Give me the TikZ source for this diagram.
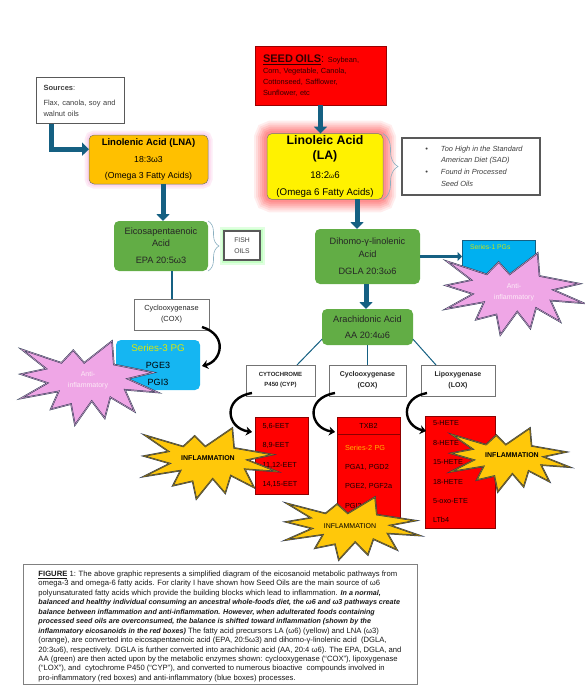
\documentclass[tikz,border=0pt]{standalone}
\usepackage{fontspec}
\setmainfont{Liberation Sans}
\usetikzlibrary{arrows.meta, calc, decorations.pathreplacing}
\definecolor{pathteal}{HTML}{156082}
\definecolor{acidgreen}{HTML}{62AD45}
\definecolor{acidorange}{HTML}{FFC000}
\definecolor{skyblue}{HTML}{15B6F2}
\definecolor{seriesblue}{HTML}{00B0F0}
\definecolor{starpink}{HTML}{EFA6E6}
\definecolor{stargold}{HTML}{FFC80A}
\definecolor{starline}{HTML}{2E3A55}
\newcommand{\fsz}[2]{\fontsize{#1}{#2}\selectfont}

\begin{document}
\begin{tikzpicture}[
    x=1pt, y=-1pt,
    every node/.style={outer sep=0pt, inner sep=2pt},
    acid/.style={rectangle, rounded corners=5pt, draw=black!55, line width=.5pt, align=center},
    greenacid/.style={rectangle, rounded corners=5pt, fill=acidgreen, align=center, text=black!85},
    glow/.style={preaction={draw=#1, draw opacity=.07, line width=26pt},
                 preaction={draw=#1, draw opacity=.08, line width=22pt},
                 preaction={draw=#1, draw opacity=.09, line width=18pt},
                 preaction={draw=#1, draw opacity=.1, line width=14pt},
                 preaction={draw=#1, draw opacity=.1, line width=10pt},
                 preaction={draw=#1, draw opacity=.1, line width=6pt}},
    softglow/.style={preaction={draw=#1, draw opacity=.3, line width=9pt},
                     preaction={draw=#1, draw opacity=.4, line width=5pt}},
    bevel/.style={rectangle, draw=black!65, line width=1.3pt, fill=white, align=left, text=black!75},
    enzyme/.style={rectangle, draw=black!55, line width=.6pt, fill=white, align=center, text=black!85},
    redlist/.style={rectangle, draw=red!55!black, line width=.6pt, fill=red, align=left, text=black!90!red},
    bigarrow/.style={draw=pathteal, line width=5pt, -{Triangle[length=7pt,width=13pt]}},
    sidearrow/.style={draw=pathteal, line width=3.5pt, -{Triangle[length=4.5pt,width=9pt]}},
    branch/.style={draw=pathteal, line width=1pt},
    curvearrow/.style={draw=black, line width=2.4pt, -{Stealth[length=6pt,width=9pt]}},
    bracket/.style={draw=pathteal!50, line width=.6pt, decorate},
    antistar/.style={fill=starpink, draw=starline, double=starpink!70!gray, double distance=.5pt, line width=.5pt, miter limit=20},
    goldstar/.style={fill=stargold, draw=starline, double=stargold!60!black, double distance=.5pt, line width=.5pt, miter limit=20},
    burst/.pic={
        \path[pic actions] (66.7,0) -- (68,28) -- (97,37.5) -- (78,45) -- (100,61.3) -- (76,58)
            -- (83,84) -- (65.5,67) -- (61.4,92) -- (52,71.5) -- (39.8,100) -- (37,75)
            -- (22.2,81.4) -- (28,60) -- (.5,68.4) -- (20,50) -- (.5,39.5) -- (19,33)
            -- (1.2,10) -- (30,26) -- (38.6,11) -- (46.5,26) -- cycle;
    }
]
\useasboundingbox (0,0) rectangle (584,699);

% Left column (omega 3)
\node[bevel, minimum width=88pt, minimum height=46pt, text width=74pt, inner xsep=7pt, font=\fsz{7.5}{11}] (src) at (80.5,100.5)
    {\textbf{Sources}:\\[4pt] Flax, canola, soy and\\ walnut oils};
\node[acid, softglow=magenta!25, fill=acidorange, minimum width=119pt, minimum height=49pt] (lna) at (148.5,159.5)
    {{\fsz{9.5}{11}\textbf{Linolenic Acid (LNA)}}\\[4.5pt] {\fsz{8.7}{11}18:3ω3}\\[4.5pt] {\fsz{8.7}{11}(Omega 3 Fatty Acids)}};
\node[greenacid, minimum width=94pt, minimum height=50pt, font=\fsz{9.2}{12}] (epa) at (161,246)
    {Eicosapentaenoic\\ Acid\\[5pt] EPA 20:5ω3};
\node[bevel, softglow=green!40, minimum width=36pt, minimum height=29pt, font=\fsz{6.8}{11}] (fish) at (242,245.5) {FISH\\ OILS};
\node[enzyme, minimum width=75pt, minimum height=31pt, font=\fsz{7.4}{11}] (coxa) at (171.5,314.5) {Cyclooxygenase\\ (COX)};
\node[rectangle, rounded corners=5pt, fill=skyblue, minimum width=84pt, minimum height=50pt, align=center, font=\fsz{9}{17}] (ser3) at (158,365)
    {{\fsz{9.8}{17}\textcolor{yellow!85!green}{Series-3 PG}}\\ PGE3\\ PGI3};

% Right column (omega 6)
\node[rectangle, draw=red!60!black, line width=.6pt, fill=red, minimum width=131pt, minimum height=59pt, align=left, text width=115pt, inner xsep=8pt, text=red!20!black, font=\fsz{7.4}{11}] (seed) at (320.5,75.5)
    {{\fsz{11}{11}\textbf{\underline{SEED OILS}}:} Soybean,\\ Corn, Vegetable, Canola,\\ Cottonseed, Safflower,\\ Sunflower, etc};
\node[acid, glow=red, fill=yellow, minimum width=116pt, minimum height=65pt] (la) at (325,166.5)
    {{\fsz{12.3}{15.5}\textbf{Linoleic Acid}}\\[3pt] {\fsz{12.3}{15.5}\textbf{(LA)}}\\[7pt] {\fsz{9.7}{11}18:2{\fsz{6.5}{7}ω}6}\\[5pt] {\fsz{9.7}{11}(Omega 6 Fatty Acids)}};
\node[bevel, minimum width=138pt, minimum height=57pt, font=\fsz{7.4}{11.3}\itshape] (note) at (471,166.5)
    {\begin{tabular}{@{\hspace{6pt}}l@{\hspace{13pt}}l@{}}
     \textbullet & Too High in the Standard\\
                 & American Diet (SAD)\\[1pt]
     \textbullet & Found in Processed\\
                 & Seed Oils
     \end{tabular}};
\node[greenacid, minimum width=105pt, minimum height=55pt, font=\fsz{9.2}{12.5}] (dgla) at (367.5,256.5)
    {Dihomo-γ-linolenic\\ Acid\\[5pt] DGLA 20:3ω6};
\node[rectangle, draw=pathteal, line width=.4pt, fill=seriesblue, minimum width=73pt, minimum height=33pt] (ser1) at (498.5,256.5) {};
\node[anchor=north west, text=yellow!80!green, font=\fsz{6.8}{8}] (ser1t) at (468,243) {Series-1 PGs};
\node[greenacid, minimum width=91pt, minimum height=36pt, font=\fsz{9.2}{16}] (aa) at (367.5,327)
    {Arachidonic Acid\\ AA 20:4ω6};

% Enzymes
\node[enzyme, minimum width=69pt, minimum height=31pt, font=\fsz{6}{10}\bfseries] (cyp) at (280.5,380.5) {CYTOCHROME\\ P450 (CYP)};
\node[enzyme, minimum width=77pt, minimum height=31pt, font=\fsz{7}{11}\bfseries] (coxb) at (367.5,380.5) {Cyclooxygenase\\ (COX)};
\node[enzyme, minimum width=74pt, minimum height=31pt, font=\fsz{7}{11}\bfseries] (lox) at (458,380.5) {Lipoxygenase\\ (LOX)};

% Red boxes
\node[redlist, minimum height=77pt, text width=38pt, inner xsep=7.5pt, font=\fsz{7.3}{19.4}] (eet) at (281.5,455.5)
    {5,6-EET\\ 8,9-EET\\ 11,12-EET\\ 14,15-EET};
\node[redlist, minimum width=63pt, minimum height=17pt, align=center, font=\fsz{7.3}{9}] (txb) at (368.5,425.5) {TXB2};
\node[redlist, minimum height=85pt, text width=47pt, inner xsep=8pt, font=\fsz{7.3}{19.4}] (pgs) at (368.5,476.5)
    {\textcolor{orange!60!yellow}{Series-2 PG}\\ PGA1, PGD2\\ \mbox{PGE2, PGF2a}\\ PGI2};
\node[redlist, minimum height=112pt, text width=54pt, inner xsep=8pt, font=\fsz{7.3}{19.4}] (hete) at (460,472)
    {5-HETE\\ 8-HETE\\ 15-HETE\\ 18-HETE\\ 5-oxo-ETE\\ LTb4};

% Arrows
\draw[bigarrow] ($(src.south west)!.175!(src.south east)$) |- ($(lna.north west)!.29!(lna.south west)$);
\draw[bigarrow] ($(lna.south)+(14.5,0)$) -- ($(epa.north)+(2,0)$);
\draw[bigarrow] (seed.south) -- (seed.south |- la.north);
\draw[bigarrow] ($(la.south)+(32,0)$) -- ($(dgla.north)+(-10.5,0)$);
\draw[bigarrow] ($(dgla.south)+(-1.5,0)$) -- ($(aa.north)+(-1.5,0)$);
\draw[sidearrow] (dgla.east) -- (ser1.west);
\draw[draw=pathteal, line width=2pt] (epa.south -| coxa.north) -- (coxa.north);
\draw[branch] (aa.195) -- ($(cyp.north east)+(-18,0)$);
\draw[branch] (aa.south) -- (aa.south |- coxb.north);
\draw[branch] (aa.-15) -- ($(lox.north west)+(15,0)$);

% Curved arrows
\draw[curvearrow] ($(coxa.south east)+(-7,-3)$) .. controls (228,335) and (222,361) .. ($(ser3.east)+(2,1)$);
\draw[curvearrow] ($(cyp.south west)+(6,-3)$) .. controls (222,398) and (226,428) .. ($(eet.north west)+(-3,15)$);
\draw[curvearrow] ($(coxb.south west)+(6,-3)$) .. controls (305,398) and (309,428) .. ($(txb.north west)+(-2,15)$);
\draw[curvearrow] ($(lox.south west)+(6,-3)$) .. controls (399,398) and (403,426) .. ($(hete.north west)+(1,15)$);

% Brackets
\draw[bracket, decoration={brace, amplitude=15pt}] (la.north east) -- (la.south east);
\draw[bracket, decoration={brace, amplitude=11pt}] (epa.north east) -- (epa.south east);

% Stars
\pic[antistar, xscale=1.38, yscale=.84] at (20,341) {burst};
\pic[antistar, xscale=1.39, yscale=.82] at (445,253) {burst};
\pic[goldstar, xscale=1.34, yscale=.71] at (143,428) {burst};
\pic[goldstar, xscale=1.35, yscale=.63] at (285,497) {burst};
\pic[goldstar, xscale=1.20, yscale=.64] at (450,428) {burst};
\node[align=center, text=white!92!magenta, font=\fsz{7}{11}] (antia) at (88,380.5) {Anti-\\ inflammatory};
\node[align=center, text=white!92!magenta, font=\fsz{7}{11}] (antib) at (514,292) {Anti-\\ inflammatory};
\node[font=\fsz{7}{9}\bfseries] (infla) at (208,458) {INFLAMMATION};
\node[font=\fsz{7}{9}] (inflb) at (350,526) {INFLAMMATION};
\node[font=\fsz{7}{9}\bfseries] (inflc) at (512,455) {INFLAMMATION};

% Caption
\node[rectangle, draw=black!50, line width=.8pt, fill=white, minimum width=394pt, minimum height=120pt, align=left, inner xsep=7pt, text=black!90, font=\fsz{7.65}{9.45}] (caption) at (220,624)
    {\rule{0pt}{10.5pt}\textbf{\underline{FIGURE}} 1: The above graphic represents a simplified diagram of the eicosanoid metabolic pathways from\\
     omega-3 and omega-6 fatty acids. For clarity I have shown how Seed Oils are the main source of ω6\\
     polyunsaturated fatty acids which provide the building blocks which lead to inflammation.  {\fsz{7.15}{9.45}\textbf{\textit{In a normal,}}}\\
     {\fsz{7.15}{9.45}\textbf{\textit{balanced and healthy individual consuming an ancestral whole-foods diet, the ω6 and ω3 pathways create}}}\\
     {\fsz{7.15}{9.45}\textbf{\textit{balance between inflammation and anti-inflammation. However, when adulterated foods containing}}}\\
     {\fsz{7.15}{9.45}\textbf{\textit{processed seed oils are overconsumed, the balance is shifted toward inflammation (shown by the}}}\\
     {\fsz{7.15}{9.45}\textbf{\textit{inflammatory eicosanoids in the red boxes)}}} The fatty acid precursors LA (ω6) (yellow) and LNA (ω3)\\
     (orange), are converted into eicosapentaenoic acid (EPA, 20:5ω3) and dihomo-γ-linolenic acid \ (DGLA,\\
     20:3ω6), respectively. DGLA is further converted into arachidonic acid (AA, 20:4 ω6). The EPA, DGLA, and\\
     AA (green) are then acted upon by the metabolic enzymes shown: cyclooxygenase (“COX”), lipoxygenase\\
     (“LOX”), and \ cytochrome P450 (“CYP”), and converted to numerous bioactive \ compounds involved in\\
     pro-inflammatory (red boxes) and anti-inflammatory (blue boxes) processes.};
\end{tikzpicture}
\end{document}
